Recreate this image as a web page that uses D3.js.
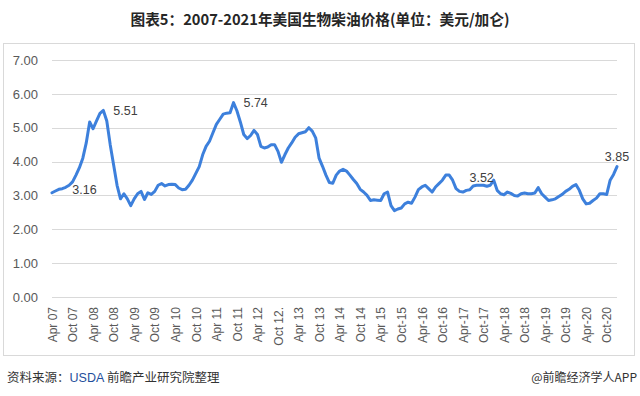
<!DOCTYPE html>
<html>
<head>
<meta charset="utf-8">
<script src="https://cdn.jsdelivr.net/npm/d3@7"></script>
<style>
  body { margin: 0; background: #fff; }
  svg { display: block; font-family: "Liberation Sans", Arial, sans-serif; }
</style>
</head>
<body>
<div id="container"></div>
<script>
// ---- data ----
const titleText = "图表5：2007-2021年美国生物柴油价格(单位：美元/加仑)";

// monthly prices, Apr 2007 .. Jan 2021 (USD / gallon)
const prices = [
  3.08, 3.13, 3.18, 3.20, 3.24, 3.30, 3.40, 3.60, 3.82, 4.10, 4.55, 5.17,
  4.97, 5.20, 5.42, 5.51, 5.20, 4.50, 3.90, 3.30, 2.90, 3.05, 2.90, 2.70,
  2.90, 3.05, 3.12, 2.88, 3.08, 3.03, 3.12, 3.30, 3.35, 3.28, 3.32, 3.33,
  3.32, 3.22, 3.17, 3.18, 3.30, 3.45, 3.65, 3.85, 4.20, 4.45, 4.60, 4.85,
  5.10, 5.25, 5.40, 5.43, 5.44, 5.74, 5.50, 5.17, 4.80, 4.68, 4.77, 4.92,
  4.80, 4.45, 4.40, 4.43, 4.50, 4.50, 4.30, 3.98, 4.20, 4.40, 4.55, 4.72,
  4.82, 4.85, 4.88, 5.00, 4.90, 4.70, 4.10, 3.86, 3.60, 3.38, 3.36, 3.60,
  3.72, 3.77, 3.72, 3.60, 3.47, 3.35, 3.18, 3.10, 3.00, 2.85, 2.87, 2.86,
  2.85, 3.05, 3.10, 2.70, 2.55, 2.60, 2.63, 2.75, 2.80, 2.77, 2.95, 3.17,
  3.25, 3.30, 3.20, 3.10, 3.25, 3.35, 3.45, 3.60, 3.60, 3.45, 3.20, 3.12,
  3.10, 3.15, 3.17, 3.28, 3.30, 3.30, 3.30, 3.27, 3.30, 3.45, 3.15, 3.05,
  3.02, 3.10, 3.06, 3.00, 2.98, 3.05, 3.07, 3.05, 3.05, 3.07, 3.23, 3.05,
  2.95, 2.85, 2.87, 2.90, 2.97, 3.03, 3.12, 3.18, 3.27, 3.32, 3.15, 2.90,
  2.75, 2.77, 2.85, 2.92, 3.05, 3.05, 3.03, 3.45, 3.62, 3.85
];

// category axis labels, one every 6 months
const tickLabels = [
  "Apr 07", "Oct 07", "Apr 08", "Oct 08", "Apr 09", "Oct 09", "Apr 10", "Oct 10",
  "Apr 11", "Oct 11", "Apr 12", "Oct 12.", "Apr 13", "Oct 13", "Apr 14", "Oct 14",
  "Apr 15", "Oct-15", "Apr-16", "Oct-16", "Apr-17", "Oct-17", "Apr-18", "Oct-18",
  "Apr-19", "Oct-19", "Apr-20", "Oct-20"
];

const yTicks = [0, 1, 2, 3, 4, 5, 6, 7];

// data labels: month index + text shown
const labelIdx = [3, 15, 53, 119, 165];
const labelText = ["3.16", "5.51", "5.74", "3.52", "3.85"];

// ---- layout ----
const width = 640, height = 396;
const plot = { left: 52, right: 617, top: 60, bottom: 297 };

const svg = d3.select("#container")
  .append("svg")
  .attr("width", width)
  .attr("height", height);

// title
svg.append("text")
  .attr("x", 320)
  .attr("y", 25)
  .attr("text-anchor", "middle")
  .attr("textLength", 379)
  .attr("lengthAdjust", "spacingAndGlyphs")
  .style("font-family", "'Noto Sans CJK SC', sans-serif")
  .style("font-size", "15px")
  .style("font-weight", "bold")
  .attr("fill", "#262626")
  .text(titleText);

// chart frame
svg.append("rect")
  .attr("x", 3.5).attr("y", 43.5)
  .attr("width", 631).attr("height", 312)
  .attr("fill", "#fff")
  .attr("stroke", "#d9d9d9");

const x = d3.scaleLinear()
  .domain([0, prices.length - 1])
  .range([plot.left, plot.right]);

const y = d3.scaleLinear()
  .domain([0, 7])
  .range([plot.bottom, plot.top]);

// gridlines
svg.append("g")
  .selectAll("line")
  .data(yTicks)
  .join("line")
  .attr("x1", plot.left)
  .attr("x2", plot.right)
  .attr("y1", d => Math.round(y(d)) + 0.5)
  .attr("y2", d => Math.round(y(d)) + 0.5)
  .attr("stroke", "#d9d9d9");

// y axis labels
const yAxis = d3.axisLeft(y)
  .tickValues(yTicks)
  .tickFormat(d3.format(".2f"))
  .tickSize(0)
  .tickPadding(0);

svg.append("g")
  .attr("transform", `translate(38,0)`)
  .call(yAxis)
  .call(g => g.select(".domain").remove())
  .selectAll("text")
  .style("font-size", "13px")
  .style("font-family", "'Liberation Sans', Arial, sans-serif")
  .attr("fill", "#595959");

// x axis labels (rotated)
const xAxis = d3.axisBottom(x)
  .tickValues(d3.range(0, prices.length, 6))
  .tickFormat((d, i) => tickLabels[i])
  .tickSize(0);

svg.append("g")
  .attr("transform", `translate(0,${plot.bottom})`)
  .call(xAxis)
  .call(g => g.select(".domain").remove())
  .selectAll("text")
  .style("font-size", "12px")
  .style("font-family", "'Liberation Sans', Arial, sans-serif")
  .attr("fill", "#595959")
  .attr("text-anchor", "end")
  .attr("dy", "0.35em")
  .attr("transform", "translate(0,10) rotate(-90)")
  .attr("x", 0)
  .attr("y", 0);

// price line
const line = d3.line()
  .x((d, i) => x(i))
  .y(d => y(d));

svg.append("path")
  .datum(prices)
  .attr("d", line)
  .attr("fill", "none")
  .attr("stroke", "#3d80dc")
  .attr("stroke-width", 3)
  .attr("stroke-linejoin", "round")
  .attr("stroke-linecap", "round");

// data labels
svg.append("g")
  .selectAll("text")
  .data(labelIdx)
  .join("text")
  .attr("x", (d, i) => i === labelIdx.length - 1 ? x(d) : x(d) + 10)
  .attr("y", (d, i) => i === labelIdx.length - 1 ? y(prices[d]) - 6 : y(+labelText[i]))
  .attr("dy", (d, i) => i === labelIdx.length - 1 ? "0" : "0.35em")
  .attr("text-anchor", (d, i) => i === labelIdx.length - 1 ? "middle" : "start")
  .style("font-size", "12.5px")
  .attr("fill", "#404040")
  .text((d, i) => labelText[i]);

// footer
const src = svg.append("text")
  .attr("x", 7)
  .attr("y", 382)
  .style("font-family", "'Noto Sans CJK SC', sans-serif")
  .style("font-size", "12.5px")
  .attr("fill", "#333");
src.append("tspan").text("资料来源：");
src.append("tspan").attr("fill", "#1f4f9c").style("font-family", "'Liberation Sans', Arial, sans-serif").text("USDA ");
src.append("tspan").text("前瞻产业研究院整理");

svg.append("text")
  .attr("x", 637)
  .attr("y", 382)
  .attr("text-anchor", "end")
  .style("font-family", "'Noto Sans CJK SC', sans-serif")
  .style("font-size", "12px")
  .attr("fill", "#333")
  .text("@前瞻经济学人APP");
</script>
</body>
</html>
